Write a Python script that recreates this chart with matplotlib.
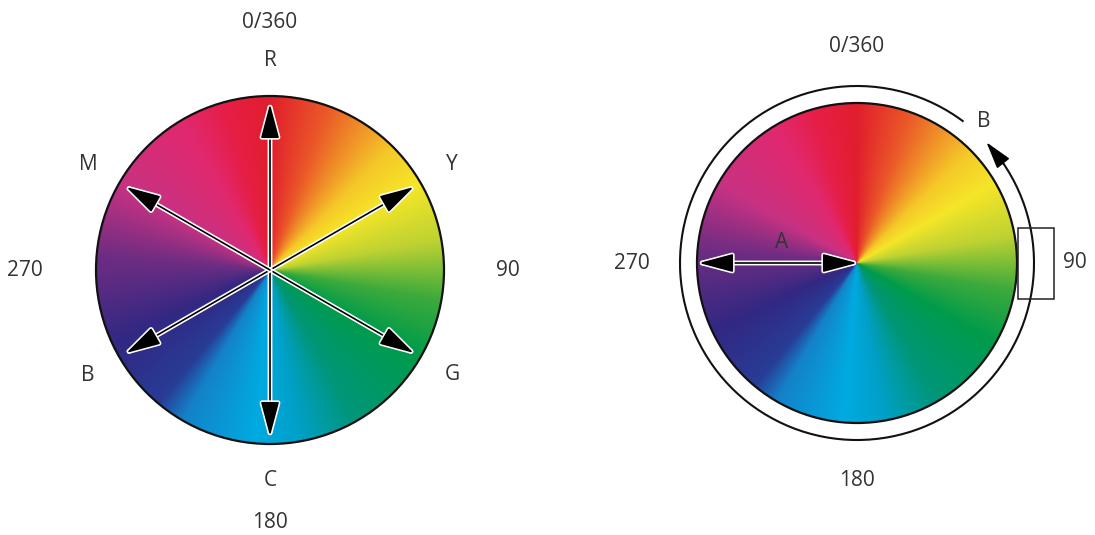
import numpy as np
import matplotlib
matplotlib.use("Agg")
import matplotlib.pyplot as plt
from matplotlib.patches import Circle, FancyArrowPatch, Rectangle, Arc
import matplotlib.patheffects as pe

plt.rcParams["font.family"] = ["Open Sans", "DejaVu Sans"]

# hue stops (degrees clockwise from top) -> rgb
stop_angles = [0, 20, 45, 60, 80, 100, 120, 150, 170, 185, 210, 220, 245, 275, 300, 330, 345, 360]
stop_colors = [(225, 30, 45), (235, 90, 40), (245, 200, 40), (245, 230, 40), (190, 210, 50),
               (60, 170, 60), (0, 155, 75), (0, 150, 120), (0, 160, 200), (0, 170, 225),
               (20, 130, 200), (40, 60, 150), (50, 40, 130), (110, 45, 130), (200, 50, 130),
               (225, 40, 110), (230, 30, 70), (225, 30, 45)]

# left wheel
left_center = (270, 270)
left_radius = 174
arrow_angles = [0, 60, 120, 180, 240, 300]
arrow_len = 166
hue_letters = ["R", "Y", "G", "C", "B", "M"]
hue_letter_r = 210
degree_labels = ["0/360", "90", "180", "270"]
degree_angles = [0, 90, 180, 270]
left_degree_r = [248, 238, 252, 245]

# right wheel
right_center = (857, 263)
right_radius = 160
ring_radius = 177
ring_start, ring_end = 50, 397   # arc (clockwise from top) that the ring covers
right_degree_r = [217, 218, 217, 225]
box = (1018, 228, 36, 71)

TXT = "#333333"
FS = 15


def wheel_image(cx, cy, r, n=700):
    xs = np.linspace(cx - r, cx + r, n)
    ys = np.linspace(cy - r, cy + r, n)
    X, Y = np.meshgrid(xs, ys)
    th = np.degrees(np.arctan2(X - cx, -(Y - cy))) % 360
    cols = np.array(stop_colors) / 255.0
    img = np.stack([np.interp(th, stop_angles, cols[:, k]) for k in range(3)], axis=-1)
    return img


def polar(cx, cy, r, ang):
    a = np.radians(ang)
    return cx + r * np.sin(a), cy - r * np.cos(a)


def draw_wheel(ax, cx, cy, r):
    im = ax.imshow(wheel_image(cx, cy, r), extent=(cx - r, cx + r, cy + r, cy - r),
                   origin="upper", interpolation="bilinear", zorder=1)
    clip = Circle((cx, cy), r, transform=ax.transData)
    im.set_clip_path(clip)
    ax.add_patch(Circle((cx, cy), r, fill=False, ec="#111111", lw=1.6, zorder=2))


def arrow(ax, p0, p1, style="-|>"):
    a = FancyArrowPatch(p0, p1, arrowstyle=style + ",head_length=1.2,head_width=0.32",
                        mutation_scale=18, color="black", lw=1.2, shrinkA=0, shrinkB=0, zorder=4)
    a.set_path_effects([pe.withStroke(linewidth=3.5, foreground="white")])
    ax.add_patch(a)


fig = plt.figure(figsize=(10.95, 5.35), dpi=100)
ax = fig.add_axes([0, 0, 1, 1])
ax.set_xlim(0, 1095)
ax.set_ylim(535, 0)
ax.axis("off")

# ---- left wheel ----
cx, cy = left_center
draw_wheel(ax, cx, cy, left_radius)
for ang in arrow_angles:
    arrow(ax, (cx, cy), polar(cx, cy, arrow_len, ang))
for lab, ang in zip(hue_letters, arrow_angles):
    x, y = polar(cx, cy, hue_letter_r, ang)
    ax.text(x, y, lab, ha="center", va="center", fontsize=FS, color=TXT)
for lab, ang, rr in zip(degree_labels, degree_angles, left_degree_r):
    x, y = polar(cx, cy, rr, ang)
    ax.text(x, y, lab, ha="center", va="center", fontsize=FS, color=TXT)

# ---- right wheel ----
cx, cy = right_center
draw_wheel(ax, cx, cy, right_radius)
# ring (Arc angles are counter-clockwise from +x in data coords; y is flipped)
ax.add_patch(Arc((cx, cy), 2 * ring_radius, 2 * ring_radius, theta1=ring_start - 90, theta2=ring_end - 90,
                 color="#111111", lw=1.5, zorder=3))
# arrow head at ring_start pointing counter-clockwise (screen)
tip = polar(cx, cy, ring_radius, ring_start - 3)
base = polar(cx, cy, ring_radius, ring_start + 6)
ax.add_patch(FancyArrowPatch(base, tip, arrowstyle="-|>,head_length=1.2,head_width=0.35",
                             mutation_scale=14, color="black", lw=1.2, shrinkA=0, shrinkB=0, zorder=4))
ax.text(*polar(cx, cy, 190, 42), "B", ha="center", va="center", fontsize=FS, color=TXT)

# A arrow
arrow(ax, (cx - right_radius + 2, cy), (cx, cy), style="<|-|>")
ax.text(cx - 75, cy - 21, "A", ha="center", va="center", fontsize=FS, color=TXT)

ax.add_patch(Rectangle(box[:2], box[2], box[3], fill=False, ec="#222222", lw=1.1, zorder=5))

for lab, ang, rr in zip(degree_labels, degree_angles, right_degree_r):
    x, y = polar(cx, cy, rr, ang)
    ax.text(x, y, lab, ha="center", va="center", fontsize=FS, color=TXT)

fig.savefig("out.png", dpi=100)
